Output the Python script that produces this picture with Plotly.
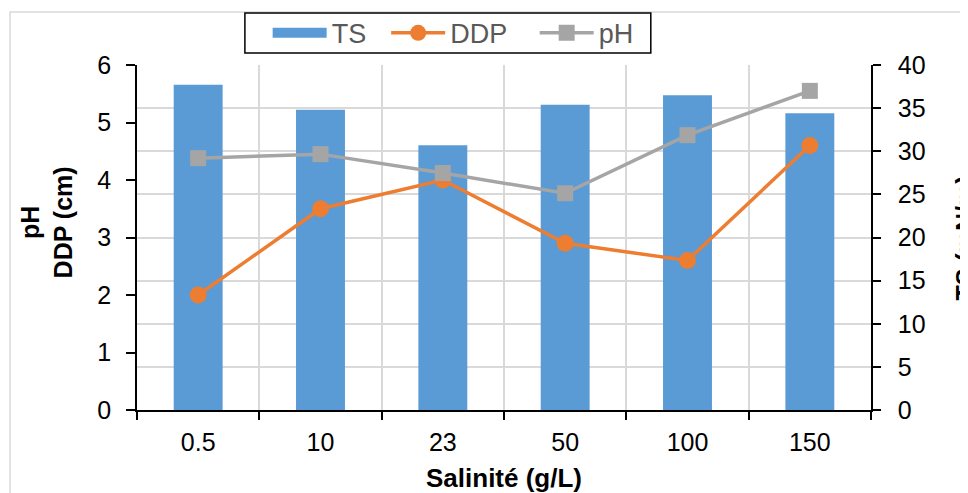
import plotly.graph_objects as go

salinite = ["0.5", "10", "23", "50", "100", "150"]
ts_values = [37.7, 34.8, 30.7, 35.4, 36.5, 34.4]
ddp_values = [2.0, 3.5, 4.0, 2.9, 2.6, 4.6]
ph_values = [4.38, 4.45, 4.12, 3.77, 4.78, 5.55]

font_family = "Liberation Sans, Arial, sans-serif"
blue, orange, grey = "#5B9BD5", "#ED7D31", "#A5A5A5"
tick_font = dict(family=font_family, size=25, color="black")
nb = "\u00a0"  # trailing gap after legend labels

fig = go.Figure()

# TS bars on the right axis (y), lines on the left axis (y2) so they draw on top
fig.add_trace(go.Bar(
    x=salinite, y=ts_values, name="TS", yaxis="y", showlegend=False,
    marker=dict(color=blue, line=dict(width=0)), width=0.4,
))
# legend entry for the bars, drawn as a wide block like Excel's
fig.add_trace(go.Scatter(
    x=[None], y=[None], name="TS" + nb * 2, yaxis="y", mode="lines",
    line=dict(color=blue, width=15),
))
fig.add_trace(go.Scatter(
    x=salinite, y=ddp_values, name="DDP" + nb * 3, yaxis="y2", mode="lines+markers",
    line=dict(color=orange, width=3.5),
    marker=dict(symbol="circle", size=17, color=orange),
))
fig.add_trace(go.Scatter(
    x=salinite, y=ph_values, name="pH", yaxis="y2", mode="lines+markers",
    line=dict(color=grey, width=3.5),
    marker=dict(symbol="square", size=16, color=grey),
))

# page body has an 8px margin, so the figure is 8px smaller than the window
fig.update_layout(
    width=960, height=485,
    margin=dict(l=129, r=97, t=57, b=83, autoexpand=False),
    paper_bgcolor="white", plot_bgcolor="white",
    font=dict(family=font_family, size=24, color="black"),
    showlegend=True,
    legend=dict(
        orientation="h", x=0.178, xanchor="left", y=1.163, yanchor="top",
        borderwidth=0, bgcolor="rgba(0,0,0,0)",
        font=dict(family=font_family, size=27, color="#595959"),
        traceorder="normal", itemwidth=54,
    ),
    xaxis=dict(
        type="category", tickson="boundaries", tickfont=tick_font,
        showgrid=True, gridcolor="#D9D9D9", gridwidth=1.5,
        showline=True, linecolor="black", linewidth=1.5,
        ticks="outside", ticklen=8, tickcolor="black", tickwidth=1.5,
        ticklabelstandoff=9,
        title=dict(text="<b>Salinité (g/L)</b>",
                   font=dict(family=font_family, size=26, color="black"), standoff=14),
    ),
    yaxis=dict(
        side="right", range=[0, 40], dtick=5, tickfont=tick_font,
        showgrid=True, gridcolor="#D9D9D9", gridwidth=1.5,
        showline=True, linecolor="black", linewidth=1.5,
        ticks="outside", ticklen=8, tickcolor="black", tickwidth=1.5,
        ticklabelstandoff=12, zeroline=False,
    ),
    yaxis2=dict(
        side="left", overlaying="y", range=[0, 6], dtick=1, tickfont=tick_font,
        showgrid=False,
        showline=True, linecolor="black", linewidth=1.5,
        ticks="outside", ticklen=9, tickcolor="black", tickwidth=1.5,
        ticklabelstandoff=10, zeroline=False,
    ),
    bargap=0.6,
)

fig.add_annotation(
    text="<b>pH<br>DDP (cm)</b>", textangle=-90,
    xref="paper", yref="paper", x=-0.122, y=0.545,
    xanchor="center", yanchor="middle", showarrow=False,
    font=dict(family=font_family, size=25, color="black"),
)
fig.add_annotation(
    text="<b>TS (mN/m)</b>", textangle=-90,
    xref="paper", yref="paper", x=1.128, y=0.5,
    xanchor="center", yanchor="middle", showarrow=False,
    font=dict(family=font_family, size=25, color="black"),
)

# chart area border (Excel style)
fig.add_shape(
    type="rect", xref="paper", yref="paper",
    x0=-0.173, x1=1.3, y0=-0.4, y1=1.1536,
    line=dict(color="#D9D9D9", width=1.5), layer="below",
)
# legend frame
fig.add_shape(
    type="rect", xref="paper", yref="paper",
    x0=0.147, x1=0.700, y0=1.0348, y1=1.1507,
    line=dict(color="black", width=1.5), fillcolor="white", layer="above",
)

fig.write_html("out.html")
